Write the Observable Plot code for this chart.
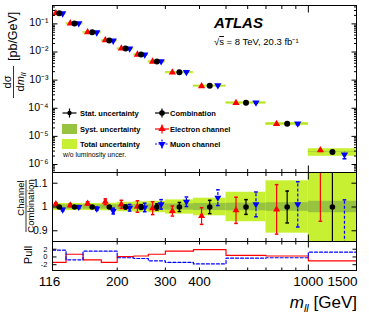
<!DOCTYPE html>
<html><head><meta charset="utf-8">
<script src="https://cdn.jsdelivr.net/npm/d3@7"></script>
<script src="https://cdn.jsdelivr.net/npm/@observablehq/plot@0.6"></script>
<style>
body{margin:0;background:#fff;}
#chart{position:relative;width:369px;height:319px;overflow:hidden;background:#fff;}
</style></head><body><div id="chart"></div>
<script>
// ---------------- data ----------------
const binLo = [116, 130, 150, 175, 200, 230, 260, 300, 380, 500, 700, 1000];
const binHi = [130, 150, 175, 200, 230, 260, 300, 380, 500, 700, 1000, 1500];
const xsec = [0.237, 0.104, 0.050, 0.0257, 0.0133, 0.0081, 0.0046, 0.0019, 6.3e-4, 1.58e-4, 2.8e-5, 2.8e-6];
const combStat = [0.003, 0.003, 0.004, 0.005, 0.008, 0.010, 0.013, 0.019, 0.028, 0.031, 0.067, 0.16];
const systUnc = [0.009, 0.009, 0.009, 0.009, 0.010, 0.011, 0.012, 0.013, 0.015, 0.016, 0.018, 0.024];
const totalUnc = [0.015, 0.015, 0.015, 0.016, 0.020, 0.022, 0.024, 0.030, 0.037, 0.062, 0.110, 0.300];
const eleRatio = [1.012, 1.007, 1.015, 1.022, 1.011, 1.002, 0.995, 0.983, 0.962, 0.986, 0.990, 1.160];
const eleErr = [0.005, 0.006, 0.007, 0.012, 0.017, 0.024, 0.027, 0.021, 0.035, 0.055, 0.104, 0.220];
const muRatio = [0.989, 1.000, 0.993, 0.983, 0.997, 0.998, 1.011, 1.022, 1.039, 1.011, 1.011, 0.800];
const muErr = [0.005, 0.006, 0.007, 0.012, 0.014, 0.018, 0.020, 0.020, 0.033, 0.052, 0.095, 0.230];
const pullEle = [-1.4, 0.7, -0.75, -1.4, 0.1, 0.25, 0.7, 1.5, 1.9, 0.4, 0.25, -1.0];
const pullMu = [1.75, -0.75, 1.5, 1.5, -0.2, -0.4, -1.0, -1.4, -1.8, -0.3, -0.2, 1.25];

const xTickLabels = [116, 200, 300, 400, 1000, 1500];
const xMinorTicks = [200, 300, 400, 500, 600, 700, 800, 900];
const xMajorTicks = [1000];
const yDecades = [-6, -5, -4, -3, -2, -1];
const ratioTicks = [0.9, 1, 1.1];
const pullTicks = [-2, 0, 2];
const legendLeft = ["Stat. uncertainty", "Syst. uncertainty", "Total uncertainty"];
const legendRight = ["Combination", "Electron channel", "Muon channel"];

const X_DOMAIN = [116, 1500];
const Y_TOP = [5.2e-7, 0.45];
const Y_RATIO = [0.855, 1.145];
const Y_PULL = [-3.5, 4];

const FONT = '"Liberation Sans", Arial, Helvetica, sans-serif';
const RED = "#ff0000", BLUE = "#0000ff", LIME = "#c8f032", DARK = "#98c33f";

// ---------------- derived tables ----------------
const pos = (lo, hi, f) => lo * Math.pow(hi / lo, f);
const comb = binLo.map((lo, i) => ({lo, hi: binHi[i], x: pos(lo, binHi[i], 0.5), y: xsec[i], r: 1,
  e: combStat[i], tot: totalUnc[i], sys: systUnc[i]}));
const ele = binLo.map((lo, i) => ({x: pos(lo, binHi[i], 0.25), y: xsec[i] * eleRatio[i], v: xsec[i], r: eleRatio[i], e: eleErr[i]}));
const mu = binLo.map((lo, i) => ({x: pos(lo, binHi[i], 0.75), y: xsec[i] * muRatio[i], v: xsec[i], r: muRatio[i], e: muErr[i]}));
const stepPts = vals => binLo.flatMap((lo, i) => [{x: lo, y: vals[i]}, {x: binHi[i], y: vals[i]}]);
const minorY = [];
for (let e = -7; e <= 0; e++) for (let k = 2; k <= 9; k++) { const v = k * 10 ** e; if (v > Y_TOP[0] && v < Y_TOP[1]) minorY.push(v); }

const SUP = {"-": "\u207b", "0": "\u2070", "1": "\u00b9", "2": "\u00b2", "3": "\u00b3", "4": "\u2074", "5": "\u2075", "6": "\u2076", "7": "\u2077", "8": "\u2078", "9": "\u2079"};
const sup = n => String(n).split("").map(c => SUP[c]).join("");

// symbols
const seg = (dx, dy) => ({draw(ctx) { ctx.moveTo(0, 0); ctx.lineTo(dx, dy); }});
const cap = w => ({draw(ctx) { ctx.moveTo(-w, 0); ctx.lineTo(w, 0); }});
const triDown = {draw(ctx, size) { const y = -Math.sqrt(size / (Math.sqrt(3) * 3)); ctx.moveTo(0, -2 * y); ctx.lineTo(Math.sqrt(3) * y, y); ctx.lineTo(-Math.sqrt(3) * y, y); ctx.closePath(); }};

function tickMarks(yDom, yMaj, yMin, L) {
  const m = [];
  const add = (data, xf, yf, sym) => m.push(Plot.dot(data, {x: xf, y: yf, symbol: sym, r: 2, stroke: "black", fill: "none", strokeWidth: 1}));
  add(yMaj, () => X_DOMAIN[0], d => d, seg(L.yMaj, 0));
  add(yMaj, () => X_DOMAIN[1], d => d, seg(-L.yMaj, 0));
  if (yMin.length) {
    add(yMin, () => X_DOMAIN[0], d => d, seg(L.yMin, 0));
    add(yMin, () => X_DOMAIN[1], d => d, seg(-L.yMin, 0));
  }
  add(xMinorTicks, d => d, () => yDom[0], seg(0, -L.xMin));
  add(xMinorTicks, d => d, () => yDom[1], seg(0, L.xMin));
  add(xMajorTicks, d => d, () => yDom[0], seg(0, -L.xMaj));
  add(xMajorTicks, d => d, () => yDom[1], seg(0, L.xMaj));
  return m;
}
const svgStyle = t => `position:absolute;left:0;top:${t}px;overflow:visible;background:none;font-family:${FONT};`;
const chartDiv = document.getElementById("chart");

// ---------------- top panel ----------------
const topPlot = Plot.plot({
  width: 369, height: 175, marginLeft: 52, marginRight: 13, marginTop: 5, marginBottom: 3,
  style: svgStyle(0),
  x: {type: "log", domain: X_DOMAIN, axis: null},
  y: {type: "log", domain: Y_TOP, axis: null},
  marks: [
    Plot.ruleY(comb, {x1: "lo", x2: "hi", y: "y", stroke: LIME, strokeWidth: 2}),
    Plot.rect(comb, {x1: "lo", x2: "hi", y1: d => d.y * (1 - d.tot), y2: d => d.y * (1 + d.tot), fill: LIME}),
    Plot.rect(comb, {x1: "lo", x2: "hi", y1: d => d.y * (1 - d.sys), y2: d => d.y * (1 + d.sys), fill: DARK}),
    Plot.ruleX(ele, {x: "x", y1: d => d.v * (d.r - d.e), y2: d => d.v * (d.r + d.e), stroke: RED}),
    Plot.ruleX(mu, {x: "x", y1: d => d.v * (d.r - d.e), y2: d => d.v * (d.r + d.e), stroke: BLUE, strokeDasharray: "2,1.5"}),
    Plot.dot(mu, {x: "x", y: d => d.v * (d.r - d.e), symbol: cap(2), r: 2, stroke: BLUE}),
    Plot.dot(ele, {x: "x", y: "y", symbol: "triangle", r: 2.7, fill: RED}),
    Plot.dot(mu, {x: "x", y: "y", symbol: triDown, r: 2.7, fill: BLUE}),
    Plot.dot(comb, {x: "x", y: "y", r: 3, fill: "black"}),
    ...tickMarks(Y_TOP, yDecades.map(d => 10 ** d), minorY, {yMaj: 5, yMin: 2.5, xMin: 3.5, xMaj: 7}),
    Plot.text(yDecades, {x: () => X_DOMAIN[0], y: d => 10 ** d, text: d => "10" + sup(d), textAnchor: "end", dx: -4, dy: -1, fontSize: 10.5, fill: "black"}),
    Plot.frame({stroke: "black", strokeWidth: 1})
  ]
});
chartDiv.appendChild(topPlot);

// ---------------- ratio panel ----------------
const ratioPlot = Plot.plot({
  width: 369, height: 77, marginLeft: 52, marginRight: 13, marginTop: 4, marginBottom: 4,
  style: svgStyle(168),
  x: {type: "log", domain: X_DOMAIN, axis: null},
  y: {domain: Y_RATIO, axis: null},
  marks: [
    Plot.rect(comb, {x1: "lo", x2: "hi", y1: d => 1 - d.tot, y2: d => 1 + d.tot, fill: LIME, clip: true}),
    Plot.rect(comb, {x1: "lo", x2: "hi", y1: d => 1 - d.sys, y2: d => 1 + d.sys, fill: DARK, clip: true}),
    Plot.ruleX(ele, {x: "x", y1: d => d.r - d.e, y2: d => d.r + d.e, stroke: RED, strokeWidth: 1.2, clip: true}),
    Plot.ruleX(mu, {x: "x", y1: d => d.r - d.e, y2: d => d.r + d.e, stroke: BLUE, strokeWidth: 1.2, strokeDasharray: "3,2", clip: true}),
    Plot.ruleX(comb, {x: "x", y1: d => d.r - d.e, y2: d => d.r + d.e, stroke: "black", strokeWidth: 1.2, clip: true}),
    Plot.dot(ele, {x: "x", y: d => d.r - d.e, symbol: cap(1.8), r: 2, stroke: RED, clip: true}),
    Plot.dot(ele, {x: "x", y: d => d.r + d.e, symbol: cap(1.8), r: 2, stroke: RED, clip: true}),
    Plot.dot(mu, {x: "x", y: d => d.r - d.e, symbol: cap(1.8), r: 2, stroke: BLUE, clip: true}),
    Plot.dot(mu, {x: "x", y: d => d.r + d.e, symbol: cap(1.8), r: 2, stroke: BLUE, clip: true}),
    Plot.dot(comb, {x: "x", y: d => d.r - d.e, symbol: cap(1.8), r: 2, stroke: "black", clip: true}),
    Plot.dot(comb, {x: "x", y: d => d.r + d.e, symbol: cap(1.8), r: 2, stroke: "black", clip: true}),
    Plot.dot(ele, {x: "x", y: "r", symbol: "triangle", r: 2.6, fill: RED, clip: true}),
    Plot.dot(mu, {x: "x", y: "r", symbol: triDown, r: 2.6, fill: BLUE, clip: true}),
    Plot.dot(comb, {x: "x", y: "r", r: 2.8, fill: "black", clip: true}),
    ...tickMarks(Y_RATIO, ratioTicks, [], {yMaj: 5, yMin: 2.5, xMin: 3.5, xMaj: 7}),
    Plot.text(ratioTicks, {x: () => X_DOMAIN[0], y: d => d, text: d => String(d), textAnchor: "end", dx: -5, fontSize: 10.5, fill: "black"}),
    Plot.frame({stroke: "black", strokeWidth: 1})
  ]
});
chartDiv.appendChild(ratioPlot);

// ---------------- pull panel ----------------
const pullPlot = Plot.plot({
  width: 369, height: 82, marginLeft: 52, marginRight: 13, marginTop: 4, marginBottom: 49,
  style: svgStyle(237),
  x: {type: "log", domain: X_DOMAIN, axis: null},
  y: {domain: Y_PULL, axis: null},
  marks: [
    Plot.line(stepPts(pullEle), {x: "x", y: "y", stroke: RED, strokeWidth: 1.2}),
    Plot.line(stepPts(pullMu), {x: "x", y: "y", stroke: BLUE, strokeWidth: 1.2, strokeDasharray: "3,2"}),
    ...tickMarks(Y_PULL, pullTicks, [], {yMaj: 4, yMin: 2, xMin: 3, xMaj: 6}),
    Plot.text(pullTicks, {x: () => X_DOMAIN[0], y: d => d, text: d => String(d), textAnchor: "end", dx: -5, fontSize: 7.5, fill: "black"}),
    Plot.text(xTickLabels.filter(d => d !== X_DOMAIN[0] && d !== X_DOMAIN[1]), {x: d => d, y: () => Y_PULL[0], text: d => String(d), textAnchor: "middle", dy: 11, fontSize: 13.5, fill: "black"}),
    Plot.text(xTickLabels.filter(d => d === X_DOMAIN[0]), {x: d => d, y: () => Y_PULL[0], text: d => String(d), textAnchor: "middle", dx: -3, dy: 11, fontSize: 13.5, fill: "black"}),
    Plot.text(xTickLabels.filter(d => d === X_DOMAIN[1]), {x: d => d, y: () => Y_PULL[0], text: d => String(d), textAnchor: "end", dx: 1, dy: 11, fontSize: 13.5, fill: "black"}),
    Plot.frame({stroke: "black", strokeWidth: 1})
  ]
});
chartDiv.appendChild(pullPlot);

// ---------------- overlay: titles, legend, labels ----------------
const ov = d3.select(chartDiv).append("svg")
  .attr("width", 369).attr("height", 319)
  .style("position", "absolute").style("left", "0px").style("top", "0px")
  .attr("font-family", FONT).attr("fill", "black");

// top y title
const g1 = ov.append("g").attr("transform", "translate(15,99) rotate(-90)");
g1.append("text").attr("x", 17).attr("y", -4).attr("text-anchor", "middle").attr("font-size", 11).text("d\u03c3");
g1.append("line").attr("x1", 1).attr("x2", 33).attr("y1", -1.5).attr("y2", -1.5).attr("stroke", "black").attr("stroke-width", 0.8);
const den = g1.append("text").attr("x", 17).attr("y", 8.5).attr("text-anchor", "middle").attr("font-size", 11);
den.append("tspan").text("d");
den.append("tspan").attr("font-style", "italic").text("m");
den.append("tspan").attr("font-style", "italic").attr("font-size", 8).attr("dy", 2.5).text("ll");
g1.append("text").attr("x", 38).attr("y", 2).attr("font-size", 12.5).text("[pb/GeV]");

// ratio y title
ov.append("text").attr("transform", "translate(24,198) rotate(-90)").attr("text-anchor", "middle").attr("font-size", 9.5).text("Channel");
ov.append("line").attr("x1", 26).attr("x2", 26).attr("y1", 180).attr("y2", 232).attr("stroke", "black").attr("stroke-width", 0.8);
ov.append("text").attr("transform", "translate(34,206) rotate(-90)").attr("text-anchor", "middle").attr("font-size", 9.5).text("Combination");

// pull y title
ov.append("text").attr("transform", "translate(32,255) rotate(-90)").attr("text-anchor", "middle").attr("font-size", 11).text("Pull");

// x title
const xt = ov.append("text").attr("x", 357).attr("y", 308).attr("text-anchor", "end").attr("font-size", 17);
xt.append("tspan").attr("font-style", "italic").text("m");
xt.append("tspan").attr("font-style", "italic").attr("font-size", 11).attr("dy", 4).text("ll");
xt.append("tspan").attr("dy", -4).text(" [GeV]");

// ATLAS label
ov.append("text").attr("x", 214).attr("y", 28).attr("font-size", 15).attr("font-weight", "bold").attr("font-style", "italic").text("ATLAS");
const en = ov.append("text").attr("x", 214).attr("y", 45).attr("font-size", 9.5);
en.append("tspan").text("\u221a");
en.append("tspan").style("text-decoration", "overline").text("s");
en.append("tspan").text(" = 8 TeV, 20.3 fb\u207b\u00b9");

// legend
const rows = [113, 129, 144];
const LX = 69.5, RX = 162;
legendLeft.forEach((t, i) => {
  ov.append("text").attr("x", 80).attr("y", rows[i] + 2.7).attr("font-size", 7.5).attr("font-weight", "bold").text(t);
});
legendRight.forEach((t, i) => {
  ov.append("text").attr("x", 170).attr("y", rows[i] + 2.7).attr("font-size", 7.5).attr("font-weight", "bold").text(t);
});
ov.append("text").attr("x", 63).attr("y", rows[2] + 13).attr("font-size", 6.8).text("w/o luminosity uncer.");
const crossSym = (cx, cy, col, dash) => {
  ov.append("line").attr("x1", cx - 7).attr("x2", cx + 7).attr("y1", cy).attr("y2", cy).attr("stroke", col).attr("stroke-width", 1.2).attr("stroke-dasharray", dash);
  ov.append("line").attr("x1", cx).attr("x2", cx).attr("y1", cy - 4.5).attr("y2", cy + 4.5).attr("stroke", col).attr("stroke-width", 1.2).attr("stroke-dasharray", dash);
};
crossSym(LX, rows[0], "black", null);
ov.append("circle").attr("cx", LX).attr("cy", rows[0]).attr("r", 2.2).attr("fill", "black");
ov.append("rect").attr("x", 62).attr("y", rows[1] - 5).attr("width", 15).attr("height", 10).attr("fill", DARK);
ov.append("rect").attr("x", 62).attr("y", rows[2] - 5).attr("width", 15).attr("height", 10).attr("fill", LIME);
crossSym(RX, rows[0], "black", null);
ov.append("circle").attr("cx", RX).attr("cy", rows[0]).attr("r", 2.8).attr("fill", "black");
crossSym(RX, rows[1], RED, null);
ov.append("path").attr("transform", `translate(${RX},${rows[1]})`).attr("d", d3.symbol(d3.symbolTriangle, Math.PI * 2.7 * 2.7)()).attr("fill", RED);
crossSym(RX, rows[2], BLUE, "2,1.5");
ov.append("path").attr("transform", `translate(${RX},${rows[2]})`).attr("d", d3.symbol(triDown, Math.PI * 2.7 * 2.7)()).attr("fill", BLUE);
</script></body></html>
